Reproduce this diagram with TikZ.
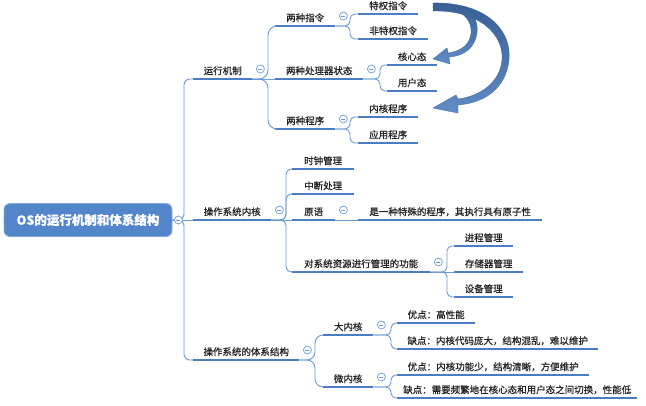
\documentclass[tikz,border=0pt]{standalone}
\usepackage{fontspec}
\setmainfont{Noto Sans CJK SC}[RawFeature={embolden=0.6}]
\definecolor{lineblue}{HTML}{4A7DC4}
\definecolor{connblue}{HTML}{6E9AD4}
\definecolor{rootblue}{HTML}{5285CA}
\definecolor{arrowblue}{HTML}{4577BA}
\definecolor{txt}{HTML}{222222}
\tikzset{
  uline/.style={draw=lineblue, line width=2.2pt},
  topic/.style={anchor=south west, inner xsep=0pt, inner ysep=2.5pt,
    text height=7.5pt, text depth=2pt, font=\fontsize{9.5}{11}\selectfont,
    text=txt, align=center,
    append after command={(\tikzlastnode.south west) edge[uline] (\tikzlastnode.south east)}},
  conn/.style={draw=connblue, line width=0.9pt, rounded corners=#1},
  conn/.default=5pt,
  fold/.style={circle, draw=connblue, line width=0.7pt, minimum size=8pt, inner sep=0pt, fill=white,
    path picture={\draw[connblue, line width=0.7pt]
      ([xshift=-2pt]path picture bounding box.center) -- ([xshift=2pt]path picture bounding box.center);}},
  rootbox/.style={rectangle, rounded corners=6pt, fill=rootblue, draw=rootblue!70!white, line width=0.8pt,
    minimum width=168pt, minimum height=33pt, text=white, font=\fontsize{12.5}{14}\selectfont\bfseries},
  bigarrow/.style={top color=arrowblue!80!black, bottom color=arrowblue!85!white, draw=arrowblue!85!black, line width=0.3pt},
}
\begin{document}
\begin{tikzpicture}[x=1pt,y=-1pt]
\useasboundingbox[fill=white] (0,0) rectangle (646,405);

% root
\node[rootbox] (root) at (88,220) {OS的运行机制和体系结构};

% level 1
\node[topic, minimum width=59pt]  (b1) at (193,79)  {运行机制};
\node[topic, minimum width=78pt]  (b2) at (193,220) {操作系统内核};
\node[topic, minimum width=106pt] (b3) at (193,360) {操作系统的体系结构};

% level 2
\node[topic, minimum width=60pt]  (a1) at (275,26)  {两种指令};
\node[topic, minimum width=88pt]  (a2) at (275,79)  {两种处理器状态};
\node[topic, minimum width=60pt]  (a3) at (275,129) {两种程序};
\node[topic, minimum width=62pt]  (k1) at (292,169) {时钟管理};
\node[topic, minimum width=62pt]  (k2) at (292,194) {中断处理};
\node[topic, minimum width=43pt]  (k3) at (292,220) {原语};
\node[topic, minimum width=138pt] (k4) at (292,272) {对系统资源进行管理的功能};
\node[topic, minimum width=50pt]  (s1) at (323,335) {大内核};
\node[topic, minimum width=50pt]  (s2) at (323,387) {微内核};

% level 3
\node[topic, minimum width=60pt]  (c1) at (358,14)  {特权指令};
\node[topic, minimum width=70pt]  (c2) at (358,39)  {非特权指令};
\node[topic, minimum width=50pt]  (d1) at (387,65)  {核心态};
\node[topic, minimum width=50pt]  (d2) at (387,91)  {用户态};
\node[topic, minimum width=60pt]  (e1) at (358,117) {内核程序};
\node[topic, minimum width=60pt]  (e2) at (358,143) {应用程序};
\node[topic, minimum width=184pt] (p1) at (358,220) {是一种特殊的程序，其执行具有原子性};
\node[topic, minimum width=59pt]  (m1) at (454,246) {进程管理};
\node[topic, minimum width=69pt]  (m2) at (454,272) {存储器管理};
\node[topic, minimum width=59pt]  (m3) at (454,297) {设备管理};
\node[topic, minimum width=78pt]  (g1) at (397,323) {优点：高性能};
\node[topic, minimum width=201pt] (g2) at (397,349) {缺点：内核代码庞大，结构混乱，难以维护};
\node[topic, minimum width=192pt] (h1) at (397,375) {优点：内核功能少，结构清晰，方便维护};
\node[topic, minimum width=240pt] (h2) at (397,398) {缺点：需要频繁地在核心态和用户态之间切换，性能低};

% junctions
\coordinate (jr)  at (184,220);
\coordinate (jb1) at (268,79);
\coordinate (jb2) at (286,220);
\coordinate (jb3) at (315,360);
\coordinate (ja1) at (350,26);
\coordinate (ja2) at (380,79);
\coordinate (ja3) at (350,129);
\coordinate (jk4) at (447,272);
\coordinate (js1) at (391,335);
\coordinate (js2) at (391,387);

% connectors
\draw[conn=6pt] (root.east) -- (jr) |- (b1.south west);
\draw[conn=6pt] (root.east) -- (b2.south west);
\draw[conn=6pt] (root.east) -- (jr) |- (b3.south west);

\draw[conn=9pt] (b1.south east) -- (jb1) |- (a1.south west);
\draw[conn=9pt] (b1.south east) -- (a2.south west);
\draw[conn=9pt] (b1.south east) -- (jb1) |- (a3.south west);

\draw[conn=6pt] (b2.south east) -- (jb2) |- (k1.south west);
\draw[conn=6pt] (b2.south east) -- (jb2) |- (k2.south west);
\draw[conn=6pt] (b2.south east) -- (k3.south west);
\draw[conn=6pt] (b2.south east) -- (jb2) |- (k4.south west);

\draw[conn=8pt] (b3.south east) -- (jb3) |- (s1.south west);
\draw[conn=8pt] (b3.south east) -- (jb3) |- (s2.south west);

\draw[conn] (a1.south east) -- (ja1) |- (c1.south west);
\draw[conn] (a1.south east) -- (ja1) |- (c2.south west);
\draw[conn] (a2.south east) -- (ja2) |- (d1.south west);
\draw[conn] (a2.south east) -- (ja2) |- (d2.south west);
\draw[conn] (a3.south east) -- (ja3) |- (e1.south west);
\draw[conn] (a3.south east) -- (ja3) |- (e2.south west);
\draw[conn] (k3.south east) -- (p1.south west);
\draw[conn] (k4.south east) -- (jk4) |- (m1.south west);
\draw[conn] (k4.south east) -- (m2.south west);
\draw[conn] (k4.south east) -- (jk4) |- (m3.south west);
\draw[conn] (s1.south east) -- (js1) |- (g1.south west);
\draw[conn] (s1.south east) -- (js1) |- (g2.south west);
\draw[conn] (s2.south east) -- (js2) |- (h1.south west);
\draw[conn] (s2.south east) -- (js2) |- (h2.south west);

% fold markers
\node[fold] (fr)  at ([xshift=6pt]root.east) {};
\node[fold] (fb1) at ([shift={(8,-10)}]b1.south east) {};
\node[fold] (fb2) at ([shift={(8,-10)}]b2.south east) {};
\node[fold] (fb3) at ([shift={(8,-10)}]b3.south east) {};
\node[fold] (fa1) at ([shift={(8,-10)}]a1.south east) {};
\node[fold] (fa2) at ([shift={(8,-10)}]a2.south east) {};
\node[fold] (fa3) at ([shift={(8,-10)}]a3.south east) {};
\node[fold] (fk3) at ([shift={(8,-10)}]k3.south east) {};
\node[fold] (fk4) at ([shift={(8,-10)}]k4.south east) {};
\node[fold] (fs1) at ([shift={(8,-10)}]s1.south east) {};
\node[fold] (fs2) at ([shift={(8,-10)}]s2.south east) {};

% big curved arrows
\path[bigarrow] (433,3) .. controls (486,2) and (512,30) .. (509,60)
  .. controls (506,88) and (485,103) .. (458,105)
  -- (458,113) -- (433,108) -- (456,95) -- (458,99)
  .. controls (481,96) and (500,82) .. (502,60)
  .. controls (504,35) and (480,10) .. (433,11) -- cycle;
\path[bigarrow] (433,3) .. controls (472,3) and (479,20) .. (477,33)
  .. controls (475,47) and (465,56) .. (449,57)
  -- (450,64) -- (433,59) -- (447,48) -- (448,53)
  .. controls (462,51) and (470,44) .. (471,33)
  .. controls (472,22) and (465,12) .. (450,9) -- cycle;
\end{tikzpicture}
\end{document}
